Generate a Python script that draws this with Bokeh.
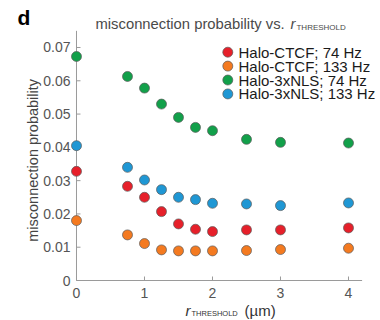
import math
from bokeh.plotting import figure
from bokeh.models import Range1d, Label, ColumnDataSource
from bokeh.core.properties import value
from bokeh.embed import file_html
from bokeh.resources import INLINE

# ---- data ----
r_threshold = [0, 0.75, 1, 1.25, 1.5, 1.75, 2, 2.5, 3, 4]
ctcf_74 = [0.0328, 0.0283, 0.0250, 0.0207, 0.0170, 0.0154, 0.0147, 0.0152, 0.0152, 0.0158]
ctcf_133 = [0.0180, 0.0137, 0.0111, 0.0092, 0.0089, 0.0089, 0.0089, 0.0090, 0.0093, 0.0097]
nls_74 = [0.0673, 0.0613, 0.0578, 0.0530, 0.0490, 0.0460, 0.0450, 0.0424, 0.0415, 0.0413]
nls_133 = [0.0405, 0.0340, 0.0302, 0.0273, 0.0250, 0.0243, 0.0232, 0.0230, 0.0225, 0.0233]

series_names = ["Halo-CTCF; 74 Hz", "Halo-CTCF; 133 Hz", "Halo-3xNLS; 74 Hz", "Halo-3xNLS; 133 Hz"]
series_values = [ctcf_74, ctcf_133, nls_74, nls_133]
series_colors = ["#e6202a", "#f47a20", "#12a04a", "#1f97d4"]

x_ticks = [0, 1, 2, 3, 4]
x_tick_labels = ["0", "1", "2", "3", "4"]
y_ticks = [0, 0.01, 0.02, 0.03, 0.04, 0.05, 0.06, 0.07]
y_tick_labels = ["0", "0.01", "0.02", "0.03", "0.04", "0.05", "0.06", "0.07"]

# axis extents (style)
X_AXIS_END = 4.2
Y_AXIS_END = 0.075

FONT = "Liberation Sans"
GRAY = "#555555"
AXIS = "#9a9a9a"

# frame covers the whole canvas; ranges chosen so that x=0 / y=0 sit where the
# reference axes are
p = figure(width=380, height=320,
           x_range=Range1d(-1.1176, 4.4706), y_range=Range1d(-0.012017, 0.084120),
           output_backend="svg", toolbar_location=None,
           x_axis_location=None, y_axis_location=None,
           min_border=0, min_border_left=0, min_border_right=0,
           min_border_top=0, min_border_bottom=0)
p.outline_line_color = None
p.grid.visible = False
p.background_fill_color = "white"
p.border_fill_color = "white"

# ---- hand-drawn axes (in data units) ----
p.segment(x0=[0, 0], y0=[0, 0], x1=[X_AXIS_END, 0], y1=[0, Y_AXIS_END],
          line_color=AXIS, line_width=1)
p.ray(x=x_ticks, y=[0] * len(x_ticks), length=4, length_units="screen",
      angle=math.pi / 2, line_color=AXIS, line_width=1)
p.ray(x=[0] * len(y_ticks), y=y_ticks, length=4, length_units="screen",
      angle=0, line_color=AXIS, line_width=1)

p.text(x=x_ticks, y=[0] * len(x_ticks), text=x_tick_labels, y_offset=12,
       text_align="center", text_baseline="middle",
       text_font=value(FONT), text_font_size=value("14px"), text_color=GRAY)
p.text(x=[0] * len(y_ticks), y=y_ticks, text=y_tick_labels, x_offset=-6,
       text_align="right", text_baseline="middle",
       text_font=value(FONT), text_font_size=value("14px"), text_color=GRAY)

# ---- points ----
for name, vals, col in zip(series_names, series_values, series_colors):
    src = ColumnDataSource(dict(x=r_threshold, y=vals))
    p.scatter("x", "y", source=src, marker="circle", size=10,
              fill_color=col, line_color="#5a5a5a", line_width=0.7)

# ---- legend (keys + labels, stacked from an anchor) ----
LEG_X = 2.225
LEG_TX = 2.382
LEG_Y0 = 0.06859
LEG_STEP = 0.00418
leg_y = [LEG_Y0 - i * LEG_STEP for i in range(len(series_names))]
p.scatter(x=[LEG_X] * len(series_names), y=leg_y, marker="circle", size=10,
          fill_color=series_colors, line_color="#5a5a5a", line_width=0.7)
p.text(x=[LEG_TX] * len(series_names), y=leg_y, text=series_names,
       text_align="left", text_baseline="middle",
       text_font=value(FONT), text_font_size=value("15px"), text_color="#1a1a1a")

# ---- titles / labels ----
def add_label(x, y, text, size, style="normal", color="#4a4a4a", angle=0, align="left"):
    p.add_layout(Label(x=x, y=y, text=text, text_font=FONT, text_font_size=size,
                       text_font_style=style, text_color=color, angle=angle,
                       text_align=align, text_baseline="middle"))

add_label(-0.8676, 0.0790, "d", "21px", "bold", "#000000")
add_label(0.2794, 0.0772, "misconnection probability vs.", "14.8px")
add_label(3.147, 0.0772, "r", "14.8px", "italic")
add_label(3.235, 0.0760, "THRESHOLD", "8px")

add_label(1.603, -0.0090, "r", "15px", "italic", "#333333")
add_label(1.691, -0.0099, "THRESHOLD", "7.5px", "normal", "#333333")
add_label(2.471, -0.0090, "(µm)", "15px", "normal", "#333333")

add_label(-0.6324, 0.0361, "misconnection probability", "14.5px", "normal", "#444444",
          angle=math.pi / 2, align="center")

open("out.html", "w").write(file_html(p, INLINE))
